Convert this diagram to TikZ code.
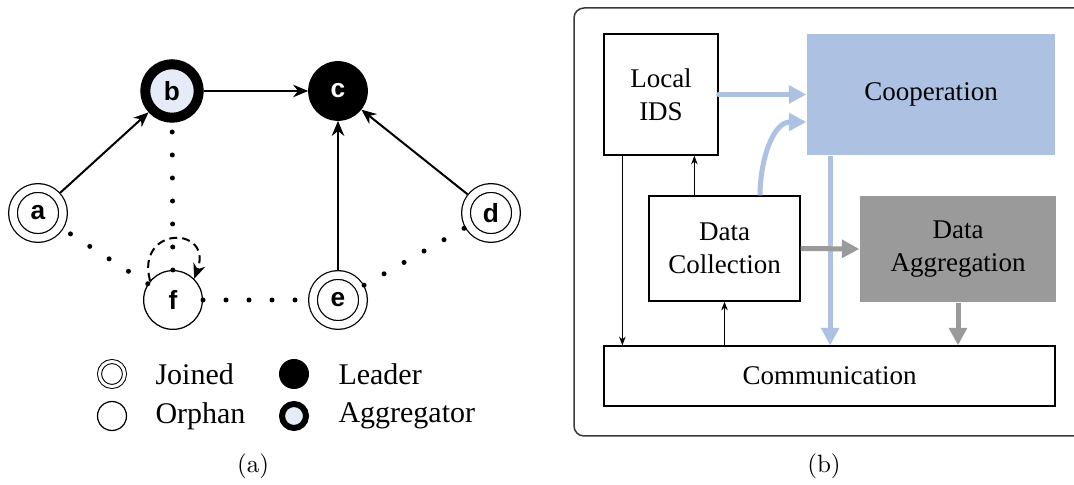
\documentclass[tikz,border=0pt]{standalone}
\usepackage{fontspec}
\usepackage{tikz}
\usetikzlibrary{arrows.meta,calc,positioning}
\newfontfamily\arialfont{Liberation Sans}
\newfontfamily\timesfont{Liberation Serif}
\definecolor{coopblue}{HTML}{ADC2E3}
\definecolor{agggray}{HTML}{9A9A9A}
\definecolor{aggfill}{HTML}{E6ECF7}
\definecolor{framegray}{HTML}{3A3A3A}

\begin{document}
\begin{tikzpicture}[x=0.4pt,y=0.4pt,>=Stealth]
\tikzset{lbl/.style={font=\arialfont\bfseries\fontsize{10.5}{12}\selectfont}}
\tikzset{joined/.style={circle,draw,double,double distance=3pt,line width=0.5pt,minimum size=20pt,inner sep=0pt,outer sep=2pt,lbl}}
\tikzset{orphan/.style={circle,draw,line width=0.5pt,minimum size=23.5pt,inner sep=0pt,lbl}}
\tikzset{leader/.style={circle,draw,fill=black,text=white,minimum size=23.5pt,inner sep=0pt,lbl}}
\tikzset{aggr/.style={circle,draw,line width=4pt,fill=aggfill,minimum size=21.4pt,inner sep=0pt,lbl}}
\tikzset{link/.style={line width=0.8pt,-{Stealth[length=6pt,width=5pt]}}}
\tikzset{reach/.style={line width=2pt,line cap=round,dash pattern=on 0pt off 9.2pt}}
\tikzset{loopline/.style={line width=0.8pt,dash pattern=on 3.2pt off 2pt,-{Stealth[length=6pt,width=5pt]}}}
\tikzset{legtxt/.style={anchor=west,inner sep=0pt,font=\timesfont\fontsize{12}{14}\selectfont}}
\tikzset{blk/.style={draw,line width=0.5pt,align=center,inner sep=0pt,font=\timesfont\fontsize{10.8}{13.2}\selectfont}}
\tikzset{fat/.style={line width=2pt,-{Triangle[length=7pt,width=7pt]}}}
\tikzset{thin/.style={line width=0.5pt,-{Stealth[length=3.5pt,width=2.6pt]}}}
\useasboundingbox (0,0) rectangle (1074,-485);
\node[joined] (a) at (38,-213) {a};
\node[aggr] (b) at (172,-91) {b};
\node[leader] (c) at (338,-91) {c};
\node[joined] (d) at (491,-213) {d};
\node[joined] (e) at (338,-300) {e};
\node[orphan] (f) at (173,-300) {f};
\draw[link] (a) -- (b);
\draw[link] (b) -- (c);
\draw[link] (e) -- (c);
\draw[link] (d) -- (c);
\draw[reach] (f) -- (b);
\draw[reach] (f) -- (a);
\draw[reach] (f) -- (e);
\draw[reach] (e) -- (d);
\draw[loopline] (f.140) to[out=105,in=70,looseness=3.3] (f.45);
\node[joined,minimum size=10pt,double distance=1.2pt,line width=0.4pt,outer sep=0pt] (kjoin) at (112,-374) {};
\node[orphan,minimum size=11.6pt,outer sep=0pt] (korph) at (112,-416) {};
\node[leader,minimum size=11.6pt] (klead) at (294,-374) {};
\node[aggr,minimum size=9.6pt,line width=2.4pt] (kaggr) at (294,-416) {};
\node[legtxt] (tjoin) at (155,-374) {Joined};
\node[legtxt] (torph) at (155,-416) {Orphan};
\node[legtxt] (tlead) at (338,-374) {Leader};
\node[legtxt] (taggr) at (338,-416) {Aggregator};
\node (capa) at (253,-466) {(a)};
\draw[framegray,line width=0.6pt,rounded corners=4pt] (574,-8) rectangle (1090,-436);
\node[blk,minimum width=45.6pt,minimum height=48.4pt] (lids) at (661,-94.5) {Local\\IDS};
\node[blk,draw=none,fill=coopblue,minimum width=99.2pt,minimum height=48.4pt] (coop) at (931,-94.5) {Cooperation};
\node[blk,minimum width=60.4pt,minimum height=42pt] (dc) at (724.5,-248.5) {Data\\Collection};
\node[blk,draw=none,fill=agggray,minimum width=78.4pt,minimum height=42.4pt] (agg) at (958,-249) {Data\\Aggregation};
\node[blk,minimum width=180.4pt,minimum height=24pt] (comm) at (829.5,-376) {Communication};
\draw[thin] ([xshift=7.6pt]lids.south west) -- ([xshift=7.6pt]lids.south west |- comm.north);
\draw[thin] ([xshift=18.4pt]dc.north west) -- ([xshift=18.4pt]dc.north west |- lids.south);
\draw[thin] (dc.south |- comm.north) -- (dc.south);
\draw[fat,coopblue,line cap=round] (lids.east) -- (coop.west);
\draw[fat,coopblue] ([xshift=14.2pt]dc.north) to[out=90,in=180] ([yshift=-11pt]coop.west);
\draw[fat,coopblue] ([xshift=9.5pt]coop.south west) -- ([xshift=9.5pt]coop.south west |- comm.north);
\draw[fat,agggray] (dc.east) -- (agg.west);
\draw[fat,agggray] (agg.south) -- (agg.south |- comm.north);
\node (capb) at (824,-466) {(b)};
\end{tikzpicture}
\end{document}
